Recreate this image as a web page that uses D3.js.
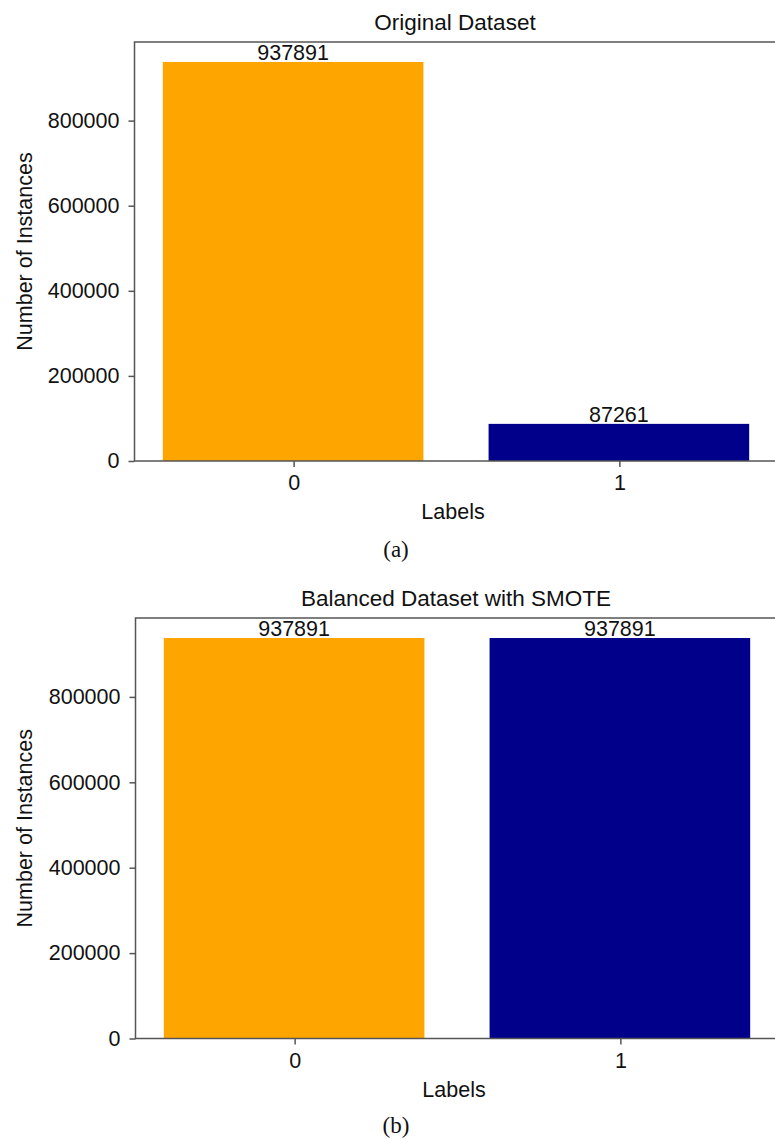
<!DOCTYPE html>
<html>
<head>
<meta charset="utf-8">
<script src="https://cdn.jsdelivr.net/npm/d3@7"></script>
<style>
  html, body { margin: 0; padding: 0; background: #fff; }
  svg { display: block; }
  text { font-family: "Liberation Sans", Arial, sans-serif; fill: #111; }
</style>
</head>
<body>
<svg id="chart" width="775" height="1139"></svg>
<script>
// Class labels and instance counts
const labels = ["0", "1"];
const originalCounts = [937891, 87261];
const smoteCounts = [937891, 937891];
const yTicks = [0, 200000, 400000, 600000, 800000];
const barColors = ["#FFA500", "#00008B"];

const panels = [
  { title: "Original Dataset", caption: "(a)", values: originalCounts,
    left: 134.5, top: 42, bottom: 461, captionY: 557 },
  { title: "Balanced Dataset with SMOTE", caption: "(b)", values: smoteCounts,
    left: 135.5, top: 618, bottom: 1038.5, captionY: 1133 }
];

const svg = d3.select("#chart");
const fontSize = 21.5;

panels.forEach(p => {
  const right = p.left + 645;
  const maxVal = d3.max(originalCounts.concat(smoteCounts));
  const y = d3.scaleLinear().domain([0, maxVal * 1.05]).range([p.bottom, p.top]);
  const x = d3.scaleBand().domain(labels).range([p.left, right])
    .paddingInner(0.2).paddingOuter(0.09);

  const g = svg.append("g");

  // bars
  g.selectAll("rect.bar").data(p.values).join("rect")
    .attr("class", "bar")
    .attr("x", (d, i) => x(labels[i]) - 1)
    .attr("width", x.bandwidth())
    .attr("y", d => y(d))
    .attr("height", d => y(0) - y(d))
    .attr("fill", (d, i) => barColors[i]);

  // value labels
  g.selectAll("text.val").data(p.values).join("text")
    .attr("class", "val")
    .attr("x", (d, i) => x(labels[i]) + x.bandwidth() / 2 - 1)
    .attr("y", d => y(d) - 2)
    .attr("text-anchor", "middle")
    .attr("font-size", fontSize)
    .text(d => d);

  // frame
  g.append("rect")
    .attr("x", p.left).attr("y", p.top)
    .attr("width", right - p.left).attr("height", p.bottom - p.top)
    .attr("fill", "none").attr("stroke", "#555").attr("stroke-width", 1.5);

  // y axis
  const yAxis = g.append("g")
    .attr("transform", `translate(${p.left},0)`)
    .call(d3.axisLeft(y).tickValues(yTicks).tickSize(6).tickPadding(9).tickFormat(d3.format("d")));
  yAxis.select(".domain").remove();
  yAxis.selectAll(".tick line").attr("stroke", "#555").attr("stroke-width", 1.5);
  yAxis.selectAll(".tick text").attr("font-size", fontSize)
    .attr("font-family", "Liberation Sans, Arial, sans-serif").attr("fill", "#111");

  // x axis
  const xAxis = g.append("g")
    .attr("transform", `translate(0,${p.bottom})`)
    .call(d3.axisBottom(x).tickSize(6).tickPadding(8));
  xAxis.select(".domain").remove();
  xAxis.selectAll(".tick line").attr("stroke", "#555").attr("stroke-width", 1.5);
  xAxis.selectAll(".tick text").attr("font-size", fontSize)
    .attr("font-family", "Liberation Sans, Arial, sans-serif").attr("fill", "#111");

  const cx = (p.left + right) / 2 - 2;

  // title
  g.append("text").attr("x", cx).attr("y", p.top - 12)
    .attr("text-anchor", "middle").attr("font-size", 22.5).text(p.title);

  // axis titles
  g.append("text").attr("x", cx - 2).attr("y", p.bottom + 58)
    .attr("text-anchor", "middle").attr("font-size", fontSize).text("Labels");

  g.append("text")
    .attr("transform", `translate(32,${(p.top + p.bottom) / 2}) rotate(-90)`)
    .attr("text-anchor", "middle").attr("font-size", fontSize).text("Number of Instances");

  // caption
  g.append("text").attr("x", 396).attr("y", p.captionY)
    .attr("text-anchor", "middle").attr("font-size", 23)
    .style("font-family", "'Liberation Serif', 'DejaVu Serif', serif")
    .text(p.caption);
});
</script>
</body>
</html>
